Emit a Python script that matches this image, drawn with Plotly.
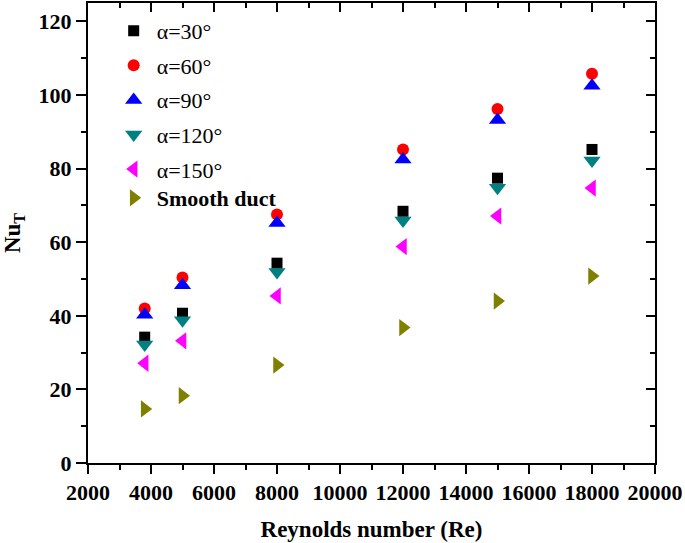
import plotly.graph_objects as go

re_vals = [3800, 5000, 8000, 12000, 15000, 18000]
nu_30 = [34.2, 40.7, 54.3, 68.4, 77.4, 85.2]
nu_60 = [42.0, 50.4, 67.5, 85.2, 96.2, 105.8]
nu_90 = [40.3, 48.3, 65.2, 82.5, 93.2, 102.5]
nu_120 = [32.2, 38.8, 51.9, 65.9, 74.8, 82.2]
nu_150 = [27.1, 33.2, 45.4, 58.8, 67.1, 74.7]
nu_smooth = [14.7, 18.3, 26.6, 36.8, 44.0, 50.8]

series = [
    ("α=30°", nu_30, "square", "#000000", 11, "legend"),
    ("α=60°", nu_60, "circle", "#FF0000", 12, "legend"),
    ("α=90°", nu_90, "triangle-up", "#0000FF", 15, "legend"),
    ("α=120°", nu_120, "triangle-down", "#008080", 15, "legend"),
    ("α=150°", nu_150, "triangle-left", "#FF00FF", 15, "legend"),
    ("<b>Smooth duct</b>", nu_smooth, "triangle-right", "#808000", 15, "legend2"),
]

FONT = "Liberation Serif, Times New Roman, serif"
fig = go.Figure()
for i, (name, vals, sym, col, sz, leg) in enumerate(series):
    fig.add_trace(go.Scatter(
        x=re_vals, y=vals, mode="markers", name=name, legendgroup=str(i), legend=leg,
        marker=dict(symbol=sym, color=col, size=sz, line=dict(width=0)),
    ))
fig.add_trace(go.Scatter(x=[None], y=[None], xaxis="x2", yaxis="y2", showlegend=False,
                         hoverinfo="skip", mode="markers"))

YMAX = 125
axis_common = dict(showgrid=False, zeroline=False, linecolor="black", linewidth=2,
                   tickcolor="black", tickwidth=2, showline=True,
                   tickfont=dict(family=FONT, size=22, color="black"))
legend_common = dict(xanchor="left", bgcolor="rgba(0,0,0,0)",
                     font=dict(family=FONT, size=22, color="black"), tracegroupgap=3, itemwidth=36)
fig.update_layout(
    width=685, height=543,
    margin=dict(l=88, r=30, t=3, b=80),
    plot_bgcolor="white", paper_bgcolor="white",
    font=dict(family=FONT, color="black", size=22),
    xaxis=dict(range=[2000, 20000], dtick=2000, ticks="outside", ticklen=9, tickformat="d",
               minor=dict(dtick=1000, ticks="outside", ticklen=5, tickcolor="black", tickwidth=2),
               title=dict(text="<b>Reynolds number (Re)</b>", font=dict(family=FONT, size=23), standoff=16),
               tickprefix="<b>", ticksuffix="</b>", **axis_common),
    yaxis=dict(range=[0, YMAX], tick0=0, dtick=20, ticks="outside", ticklen=10,
               minor=dict(dtick=10, ticks="outside", ticklen=5, tickcolor="black", tickwidth=2),
               title=dict(text="<b>Nu<sub>T</sub></b>", font=dict(family=FONT, size=23), standoff=18),
               tickprefix="<b>", ticksuffix="</b>", **axis_common),
    xaxis2=dict(overlaying="x", side="top", matches="x", range=[2000, 20000], dtick=2000,
                ticks="inside", ticklen=9, showticklabels=False,
                minor=dict(dtick=1000, ticks="inside", ticklen=5, tickcolor="black", tickwidth=2),
                showgrid=False, zeroline=False, linecolor="black", linewidth=2,
                tickcolor="black", tickwidth=2, showline=True),
    yaxis2=dict(overlaying="y", side="right", matches="y", range=[0, YMAX], tick0=0, dtick=20,
                ticks="inside", ticklen=9, showticklabels=False,
                minor=dict(dtick=10, ticks="inside", ticklen=5, tickcolor="black", tickwidth=2),
                showgrid=False, zeroline=False, linecolor="black", linewidth=2,
                tickcolor="black", tickwidth=2, showline=True),
    legend=dict(x=0.04, y=0.985, yanchor="top", **legend_common),
    legend2=dict(x=0.04, y=(463 - 198) / 460, yanchor="middle", **legend_common),
)
fig.write_html("out.html")
